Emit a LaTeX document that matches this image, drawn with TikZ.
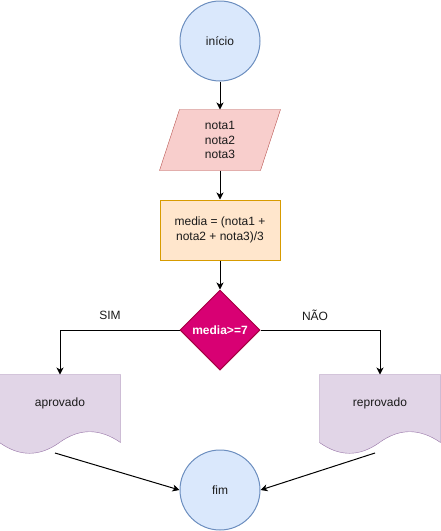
\documentclass[tikz,border=0pt]{standalone}
\usepackage{fontspec}
\setmainfont{Liberation Sans}
\usetikzlibrary{shapes.geometric,arrows.meta,calc}
\pgfdeclarelayer{background}
\pgfsetlayers{background,main}
\definecolor{bluefill}{HTML}{DAE8FC}
\definecolor{bluestroke}{HTML}{6C8EBF}
\definecolor{redfill}{HTML}{F8CECC}
\definecolor{redstroke}{HTML}{B85450}
\definecolor{orfill}{HTML}{FFE6CC}
\definecolor{orstroke}{HTML}{D79B00}
\definecolor{pinkfill}{HTML}{D80073}
\definecolor{pinkstroke}{HTML}{A50040}
\definecolor{purfill}{HTML}{E1D5E7}
\definecolor{purstroke}{HTML}{9673A6}
\definecolor{txt}{HTML}{1A1A1A}
\begin{document}
\begin{tikzpicture}[x=1pt,y=-1pt,line width=1pt,
  font=\fontsize{12}{14.5}\selectfont, text=txt,
  term/.style={circle, draw=bluestroke, fill=bluefill, minimum size=80pt, inner sep=0pt},
  box/.style={rectangle, inner sep=0pt, minimum width=120pt, minimum height=60pt, align=center},
  proc/.style={box, draw=orstroke, fill=orfill},
  dec/.style={diamond, draw=pinkstroke, fill=pinkfill, minimum width=80pt, minimum height=80pt, inner sep=0pt, text=white, font=\fontsize{12}{14.5}\selectfont\bfseries},
  docbox/.style={rectangle, inner sep=0pt, minimum width=120pt, minimum height=80pt},
  docshape/.style={draw=purstroke, fill=purfill},
  ioshape/.style={draw=redstroke, fill=redfill},
  arr/.style={draw=black, line width=1pt, -{Stealth[length=7pt,width=7pt,inset=2pt]}},
  lbl/.style={inner sep=1pt}]
\useasboundingbox (0,0) rectangle (441,531);

\node[term] (ini) at (220,41) {início};
\node[box] (ent) at (220,140) {nota1\\nota2\\nota3};
\node[proc] (calc) at (220,230) {media = (nota1 +\\nota2 + nota3)/3};
\node[dec] (dec) at (220,330) {media>=7};
\node[docbox, label={[yshift=12pt]center:aprovado}] (apr) at (60,415) {};
\node[docbox, label={[yshift=12pt]center:reprovado}] (rep) at (380,415) {};
\node[term] (fim) at (220,490) {fim};

\begin{pgfonlayer}{background}
  \path[ioshape] ($(ent.north west)+(20,0)$) -- (ent.north east)
     -- ($(ent.south east)+(-20,0)$) -- (ent.south west) -- cycle;
  \foreach \d in {apr,rep}{
    \path[docshape] (\d.north west) -- (\d.north east) -- ($(\d.north east)+(0,68)$)
      .. controls ($(\d.north west)+(100,53.6)$) and ($(\d.north west)+(80,53.6)$) .. ($(\d.north west)+(60,68)$)
      .. controls ($(\d.north west)+(40,82.4)$) and ($(\d.north west)+(20,82.4)$) .. ($(\d.north west)+(0,68)$)
      -- cycle;
  }
\end{pgfonlayer}

\coordinate (c1) at (55,453);
\coordinate (c2) at (375,453);

\draw[arr] (ini) -- (ent);
\draw[arr] (ent) -- (calc);
\draw[arr] (calc) -- (dec);
\draw[arr] (dec.west) -| (apr.north);
\draw[arr] (dec.east) -| (rep.north);
\draw[arr] (c1) -- (fim.west);
\draw[arr] (c2) -- (fim.east);

\node[lbl] (sim) at (110,315) {SIM};
\node[lbl] (nao) at (315,315) {NÃO};
\end{tikzpicture}
\end{document}
